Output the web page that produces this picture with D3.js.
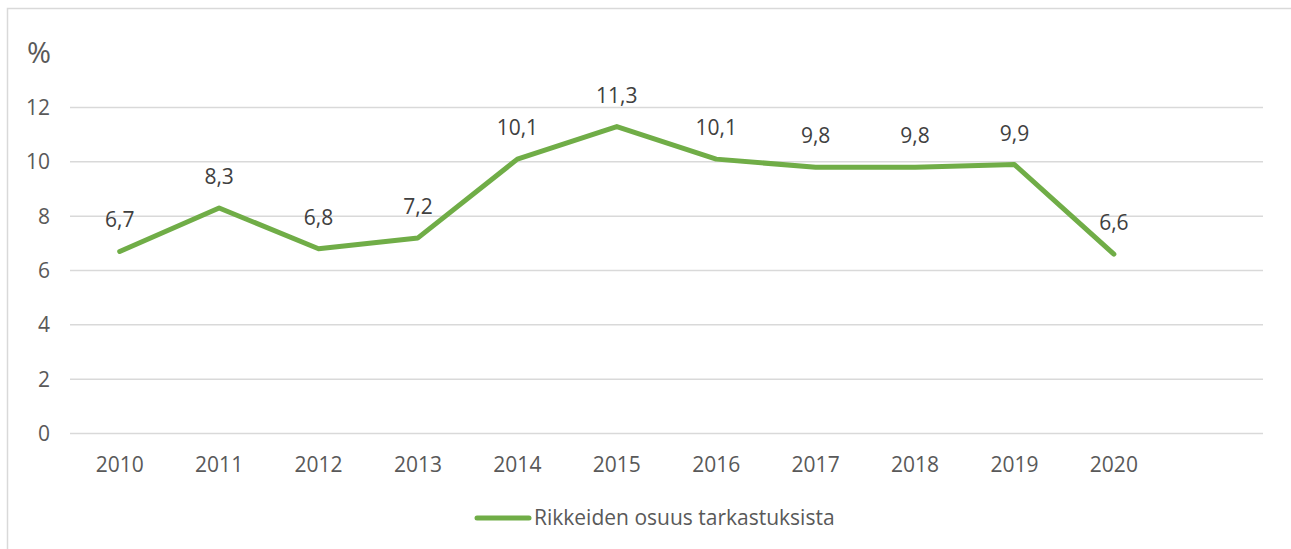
<!DOCTYPE html>
<html>
<head>
<meta charset="utf-8">
<script src="https://cdn.jsdelivr.net/npm/d3@7"></script>
<style>
  body { margin: 0; background: #fff; }
  svg { font-family: "Open Sans", sans-serif; }
</style>
</head>
<body>
<svg width="1291" height="549"></svg>
<script>
// data
const years = ['2010', '2011', '2012', '2013', '2014', '2015', '2016', '2017', '2018', '2019', '2020'];
const share = [6.7, 8.3, 6.8, 7.2, 10.1, 11.3, 10.1, 9.8, 9.8, 9.9, 6.6];
const yTicks = [0, 2, 4, 6, 8, 10, 12];
const seriesName = 'Rikkeiden osuus tarkastuksista';

const svg = d3.select('svg');
const green = '#70ad47';

// outer frame
svg.append('rect')
    .attr('x', 7.5).attr('y', 8.5)
    .attr('width', 1300).attr('height', 560)
    .style('fill', 'none')
    .style('stroke', '#d9d9d9')
    .style('stroke-width', 1.5);

// one empty slot after 2020, like the original
const x = d3.scaleBand()
    .domain(years.concat(['']))
    .range([70, 1263]);

const y = d3.scaleLinear()
    .domain([0, 12])
    .range([433.5, 107.5]);

// gridlines
svg.append('g')
    .selectAll('line')
    .data(yTicks)
    .join('line')
    .attr('x1', 70).attr('x2', 1263)
    .attr('y1', d => y(d)).attr('y2', d => y(d))
    .style('stroke', '#d9d9d9')
    .style('stroke-width', 1.5);

// y labels
svg.append('g')
    .selectAll('text')
    .data(yTicks)
    .join('text')
    .attr('x', 50)
    .attr('y', d => y(d))
    .attr('dy', '0.35em')
    .attr('text-anchor', 'end')
    .style('font-size', '21px')
    .style('fill', '#595959')
    .text(d => d);

svg.append('text')
    .attr('x', 27).attr('y', 63)
    .style('font-size', '29px')
    .style('fill', '#595959')
    .text('%');

// x labels
svg.append('g')
    .selectAll('text')
    .data(years)
    .join('text')
    .attr('x', d => x(d) + x.bandwidth() / 2)
    .attr('y', 472)
    .attr('text-anchor', 'middle')
    .style('font-size', '21px')
    .style('fill', '#595959')
    .text(d => d);

// line
const pts = years.map((yr, i) => [x(yr) + x.bandwidth() / 2, y(share[i])]);
svg.append('path')
    .datum(pts)
    .attr('d', d3.line())
    .style('fill', 'none')
    .style('stroke', green)
    .style('stroke-width', 5)
    .style('stroke-linecap', 'round')
    .style('stroke-linejoin', 'round');

// data labels
svg.append('g')
    .selectAll('text')
    .data(share)
    .join('text')
    .attr('x', (d, i) => x(years[i]) + x.bandwidth() / 2)
    .attr('y', d => y(d) - 24)
    .attr('text-anchor', 'middle')
    .style('font-size', '21px')
    .style('fill', '#404040')
    .text(d => d3.format('.1f')(d).replace('.', ','));

// legend
const lg = svg.append('g');
lg.append('line')
    .attr('x1', 477).attr('x2', 529)
    .attr('y1', 518).attr('y2', 518)
    .style('stroke', green)
    .style('stroke-width', 5)
    .style('stroke-linecap', 'round');
lg.append('text')
    .attr('x', 534).attr('y', 525)
    .style('font-size', '21px')
    .style('fill', '#595959')
    .text(seriesName);
</script>
</body>
</html>
